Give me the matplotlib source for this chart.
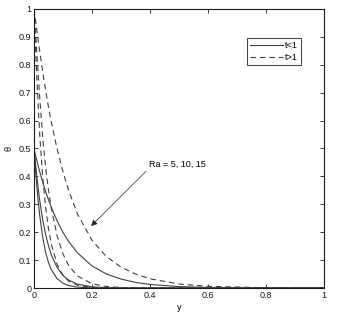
import numpy as np
import matplotlib
matplotlib.use('Agg')
import matplotlib.pyplot as plt

# Distance from the plate (shared grid for all curves)
y = [0, 0.005, 0.01, 0.015, 0.02, 0.03, 0.04, 0.05, 0.06, 0.08, 0.1, 0.12,
     0.15, 0.2, 0.25, 0.3, 0.35, 0.4, 0.5, 0.6, 0.8, 1.0]

# Temperature profiles, t<1 (solid)
theta_t_lt1 = [
    [0.5, 0.425, 0.362, 0.306, 0.258, 0.182, 0.128, 0.091, 0.065, 0.033, 0.017, 0.0085,
     0.003, 0.0006, 0, 0, 0, 0, 0, 0, 0, 0],
    [0.5, 0.448, 0.398, 0.353, 0.312, 0.245, 0.192, 0.151, 0.118, 0.073, 0.045, 0.028,
     0.0137, 0.0041, 0.0012, 0.0004, 0, 0, 0, 0, 0, 0],
    [0.5, 0.4775, 0.456, 0.4355, 0.416, 0.379, 0.346, 0.316, 0.288, 0.240, 0.199, 0.166,
     0.126, 0.079, 0.050, 0.032, 0.020, 0.0126, 0.005, 0.002, 0.0003, 0.0001],
]

# Temperature profiles, t>1 (dashed)
theta_t_gt1 = [
    [1.0, 0.87, 0.75, 0.64, 0.545, 0.397, 0.289, 0.212, 0.156, 0.084, 0.045, 0.024,
     0.0096, 0.002, 0.0004, 0, 0, 0, 0, 0, 0, 0],
    [1.0, 0.92, 0.84, 0.76, 0.68, 0.54, 0.432, 0.350, 0.284, 0.186, 0.122, 0.080,
     0.043, 0.015, 0.0052, 0.0018, 0.0006, 0.0002, 0, 0, 0, 0],
    [1.0, 0.962, 0.924, 0.884, 0.846, 0.775, 0.709, 0.648, 0.593, 0.497, 0.416, 0.348,
     0.265, 0.171, 0.112, 0.075, 0.050, 0.033, 0.0145, 0.006, 0.001, 0.0002],
]

legend_labels = ['t<1', 't>1']
annot_text = 'Ra = 5, 10, 15'

plt.rcParams['font.family'] = ['Liberation Sans', 'DejaVu Sans']
plt.rcParams['font.size'] = 6.5

fig = plt.figure(figsize=(3.42, 3.21), dpi=100)
ax = fig.add_axes([0.0994, 0.1028, 0.8480, 0.8692])

line_col = '0.25'
for k, th in enumerate(theta_t_lt1):
    ax.plot(y, th, color=line_col, lw=0.8, ls='-', label=legend_labels[0] if k == 0 else None)
for k, th in enumerate(theta_t_gt1):
    ax.plot(y, th, color=line_col, lw=0.8, ls=(0, (5, 3.5)), label=legend_labels[1] if k == 0 else None)

ax.set_xlim(0, 1)
ax.set_ylim(0, 1)
ax.set_xticks(np.arange(0, 1.01, 0.2))
ax.set_yticks(np.arange(0, 1.01, 0.1))
ax.set_xticklabels(['0', '0.2', '0.4', '0.6', '0.8', '1'])
ax.set_yticklabels(['0', '0.1', '0.2', '0.3', '0.4', '0.5', '0.6', '0.7', '0.8', '0.9', '1'])
ax.tick_params(direction='in', length=3, width=0.6, top=True, right=True, pad=2, colors='0.1')
for s in ax.spines.values():
    s.set_linewidth(0.8)
    s.set_color('0.1')

ax.set_xlabel('y')
ax.set_ylabel('θ')
ax.xaxis.set_label_coords(0.5, -0.055)
ax.yaxis.set_label_coords(-0.07, 0.5)

# Arrow and label for Ra
ax.annotate('', xy=(0.19, 0.215), xytext=(0.393, 0.425),
            arrowprops=dict(arrowstyle='-|>', color='0.15', lw=0.5, mutation_scale=9))
ax.text(0.397, 0.444, annot_text, ha='left', va='center', fontsize=6.5)

leg = ax.legend(loc='upper left', bbox_to_anchor=(0.734, 0.895), frameon=True, fancybox=False,
                edgecolor='0.1', handlelength=3.6, handletextpad=0.3, borderpad=0.35,
                labelspacing=0.3, fontsize=6.5, borderaxespad=0)
leg.get_frame().set_linewidth(0.8)

fig.savefig('out.png', dpi=100)
